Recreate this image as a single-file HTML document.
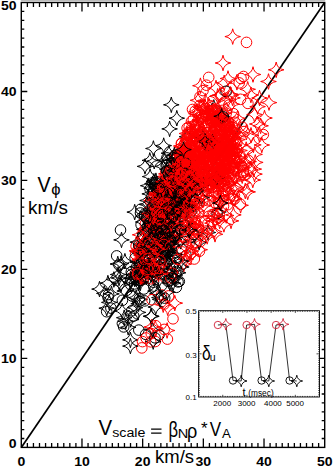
<!DOCTYPE html><html><head><meta charset="utf-8"><style>html,body{margin:0;padding:0;background:#fff;overflow:hidden}svg{display:block}</style></head><body><svg width="335" height="468" viewBox="0 0 335 468"><line x1="21.30" y1="447.40" x2="324.70" y2="2.50" stroke="#000" stroke-width="1.7"/><defs><path id="r" d="M0 -7.8Q0.94 -0.94 7.8 0Q0.94 0.94 0 7.8Q-0.94 0.94 -7.8 0Q-0.94 -0.94 0 -7.8Z" fill="none" stroke="#f00" stroke-width="1.0"/><path id="k" d="M0 -7.8Q0.94 -0.94 7.8 0Q0.94 0.94 0 7.8Q-0.94 0.94 -7.8 0Q-0.94 -0.94 0 -7.8Z" fill="none" stroke="#000" stroke-width="1.0"/><circle id="c" r="5.3" fill="none" stroke="#f00" stroke-width="1.0"/><circle id="d" r="5.3" fill="none" stroke="#000" stroke-width="1.0"/></defs><use href="#r" x="232.4" y="137.6"/><use href="#c" x="236.7" y="157.7"/><use href="#r" x="226.0" y="175.3"/><use href="#k" x="165.5" y="271.2"/><use href="#c" x="157.4" y="221.6"/><use href="#c" x="159.2" y="214.8"/><use href="#r" x="151.3" y="238.7"/><use href="#r" x="149.7" y="243.0"/><use href="#r" x="152.4" y="230.7"/><use href="#r" x="167.1" y="330.5"/><use href="#c" x="184.0" y="164.4"/><use href="#r" x="224.3" y="163.0"/><use href="#k" x="169.1" y="279.7"/><use href="#r" x="178.1" y="209.6"/><use href="#k" x="149.7" y="193.9"/><use href="#k" x="164.4" y="205.6"/><use href="#c" x="189.5" y="132.6"/><use href="#r" x="204.2" y="135.6"/><use href="#c" x="229.8" y="138.0"/><use href="#r" x="231.2" y="133.7"/><use href="#r" x="167.8" y="212.6"/><use href="#k" x="167.6" y="242.8"/><use href="#c" x="225.4" y="147.7"/><use href="#c" x="184.2" y="208.2"/><use href="#c" x="210.5" y="121.7"/><use href="#c" x="141.8" y="347.9"/><use href="#c" x="220.3" y="173.7"/><use href="#r" x="210.9" y="162.7"/><use href="#d" x="155.9" y="240.0"/><use href="#r" x="179.6" y="231.5"/><use href="#k" x="167.7" y="248.2"/><use href="#c" x="196.8" y="146.5"/><use href="#k" x="142.1" y="278.1"/><use href="#c" x="182.0" y="179.1"/><use href="#k" x="138.3" y="283.2"/><use href="#k" x="185.3" y="202.3"/><use href="#c" x="219.4" y="214.5"/><use href="#r" x="186.1" y="183.6"/><use href="#c" x="235.0" y="141.2"/><use href="#r" x="220.7" y="170.1"/><use href="#c" x="225.2" y="165.0"/><use href="#r" x="167.3" y="195.4"/><use href="#r" x="224.0" y="152.9"/><use href="#c" x="189.7" y="149.7"/><use href="#c" x="165.4" y="277.8"/><use href="#r" x="193.6" y="171.3"/><use href="#r" x="199.7" y="112.2"/><use href="#r" x="220.5" y="114.5"/><use href="#d" x="160.3" y="192.0"/><use href="#r" x="226.5" y="134.0"/><use href="#r" x="237.5" y="139.6"/><use href="#d" x="166.8" y="209.6"/><use href="#c" x="195.8" y="160.5"/><use href="#r" x="187.5" y="185.9"/><use href="#r" x="225.7" y="125.1"/><use href="#r" x="136.8" y="250.9"/><use href="#c" x="156.9" y="215.2"/><use href="#d" x="141.1" y="224.7"/><use href="#r" x="230.3" y="138.1"/><use href="#r" x="234.0" y="145.4"/><use href="#r" x="190.5" y="183.9"/><use href="#c" x="229.3" y="198.3"/><use href="#r" x="221.3" y="168.0"/><use href="#d" x="168.2" y="172.6"/><use href="#c" x="213.6" y="214.9"/><use href="#r" x="196.4" y="113.7"/><use href="#r" x="151.3" y="200.8"/><use href="#k" x="155.7" y="251.3"/><use href="#k" x="153.1" y="201.4"/><use href="#r" x="182.8" y="236.0"/><use href="#c" x="191.1" y="170.1"/><use href="#d" x="148.4" y="249.7"/><use href="#r" x="255.3" y="162.4"/><use href="#r" x="209.1" y="106.3"/><use href="#r" x="222.1" y="118.4"/><use href="#d" x="166.1" y="261.5"/><use href="#r" x="237.5" y="118.3"/><use href="#c" x="217.7" y="167.9"/><use href="#r" x="216.5" y="145.1"/><use href="#r" x="147.2" y="219.1"/><use href="#r" x="236.9" y="187.5"/><use href="#r" x="158.9" y="240.9"/><use href="#r" x="187.3" y="175.1"/><use href="#k" x="169.8" y="251.2"/><use href="#d" x="167.3" y="273.8"/><use href="#k" x="183.0" y="192.8"/><use href="#r" x="222.1" y="169.2"/><use href="#r" x="160.3" y="186.8"/><use href="#r" x="188.1" y="168.0"/><use href="#k" x="218.5" y="211.9"/><use href="#d" x="192.8" y="170.3"/><use href="#d" x="153.5" y="282.2"/><use href="#r" x="174.9" y="184.8"/><use href="#r" x="183.4" y="176.1"/><use href="#c" x="202.2" y="234.1"/><use href="#k" x="142.3" y="275.8"/><use href="#c" x="195.3" y="110.8"/><use href="#r" x="176.9" y="172.9"/><use href="#d" x="171.4" y="206.9"/><use href="#r" x="163.9" y="225.7"/><use href="#d" x="187.7" y="207.1"/><use href="#d" x="108.1" y="297.6"/><use href="#c" x="221.5" y="149.0"/><use href="#r" x="228.2" y="99.4"/><use href="#d" x="153.9" y="266.9"/><use href="#d" x="147.2" y="246.5"/><use href="#d" x="168.5" y="174.4"/><use href="#k" x="185.1" y="181.5"/><use href="#c" x="154.9" y="227.7"/><use href="#r" x="184.6" y="153.9"/><use href="#r" x="175.6" y="194.5"/><use href="#d" x="160.9" y="185.4"/><use href="#c" x="168.2" y="178.2"/><use href="#r" x="221.5" y="173.8"/><use href="#k" x="138.3" y="251.8"/><use href="#r" x="191.7" y="172.5"/><use href="#c" x="217.6" y="180.0"/><use href="#r" x="160.7" y="249.4"/><use href="#r" x="208.1" y="168.9"/><use href="#c" x="223.2" y="165.0"/><use href="#c" x="198.3" y="156.6"/><use href="#r" x="234.1" y="198.8"/><use href="#r" x="193.0" y="160.6"/><use href="#k" x="124.2" y="317.7"/><use href="#r" x="193.5" y="226.7"/><use href="#r" x="207.2" y="115.2"/><use href="#c" x="208.0" y="223.6"/><use href="#r" x="182.2" y="218.0"/><use href="#r" x="230.8" y="195.2"/><use href="#c" x="172.7" y="203.9"/><use href="#d" x="160.9" y="237.3"/><use href="#r" x="190.2" y="139.1"/><use href="#d" x="157.1" y="233.2"/><use href="#c" x="226.5" y="130.1"/><use href="#r" x="170.7" y="209.7"/><use href="#c" x="222.1" y="119.1"/><use href="#r" x="174.6" y="198.2"/><use href="#c" x="203.3" y="185.6"/><use href="#r" x="161.4" y="198.4"/><use href="#r" x="168.0" y="244.4"/><use href="#d" x="172.4" y="233.8"/><use href="#r" x="195.4" y="155.0"/><use href="#k" x="175.1" y="187.8"/><use href="#c" x="202.6" y="148.8"/><use href="#k" x="182.5" y="180.6"/><use href="#r" x="217.7" y="96.3"/><use href="#c" x="214.9" y="202.7"/><use href="#k" x="183.8" y="185.3"/><use href="#d" x="154.2" y="241.4"/><use href="#d" x="142.6" y="268.3"/><use href="#d" x="138.8" y="330.1"/><use href="#k" x="171.2" y="242.6"/><use href="#d" x="153.8" y="190.8"/><use href="#c" x="218.7" y="145.3"/><use href="#r" x="188.9" y="203.2"/><use href="#r" x="225.3" y="121.8"/><use href="#r" x="196.4" y="122.9"/><use href="#d" x="167.1" y="164.9"/><use href="#r" x="220.5" y="167.4"/><use href="#r" x="197.9" y="128.5"/><use href="#r" x="193.7" y="246.6"/><use href="#c" x="179.6" y="179.8"/><use href="#d" x="139.7" y="246.4"/><use href="#c" x="161.6" y="295.0"/><use href="#r" x="171.0" y="272.1"/><use href="#d" x="168.2" y="281.3"/><use href="#d" x="186.9" y="206.5"/><use href="#c" x="240.3" y="204.2"/><use href="#r" x="206.9" y="113.4"/><use href="#r" x="160.0" y="265.6"/><use href="#r" x="160.3" y="197.6"/><use href="#r" x="213.8" y="177.4"/><use href="#d" x="143.9" y="289.0"/><use href="#r" x="176.8" y="169.5"/><use href="#k" x="160.8" y="227.5"/><use href="#r" x="204.3" y="158.6"/><use href="#c" x="177.7" y="168.6"/><use href="#c" x="195.6" y="137.6"/><use href="#c" x="226.2" y="113.2"/><use href="#r" x="234.2" y="132.1"/><use href="#r" x="209.8" y="186.2"/><use href="#r" x="203.7" y="205.8"/><use href="#r" x="149.7" y="214.3"/><use href="#r" x="185.4" y="205.4"/><use href="#r" x="212.4" y="167.0"/><use href="#r" x="142.1" y="253.2"/><use href="#c" x="216.5" y="193.2"/><use href="#r" x="180.2" y="198.4"/><use href="#c" x="177.5" y="186.0"/><use href="#d" x="159.0" y="334.9"/><use href="#k" x="154.8" y="216.5"/><use href="#d" x="176.0" y="155.6"/><use href="#k" x="159.4" y="233.7"/><use href="#c" x="182.1" y="150.4"/><use href="#c" x="220.6" y="136.0"/><use href="#r" x="199.0" y="135.1"/><use href="#c" x="230.8" y="144.6"/><use href="#r" x="232.8" y="133.6"/><use href="#d" x="149.8" y="258.9"/><use href="#r" x="188.8" y="164.9"/><use href="#r" x="164.1" y="206.1"/><use href="#k" x="176.0" y="269.2"/><use href="#r" x="166.3" y="173.9"/><use href="#c" x="218.3" y="136.4"/><use href="#k" x="155.7" y="307.0"/><use href="#c" x="223.5" y="206.2"/><use href="#c" x="203.4" y="177.5"/><use href="#c" x="169.2" y="178.1"/><use href="#r" x="159.9" y="215.5"/><use href="#c" x="216.5" y="121.2"/><use href="#c" x="150.9" y="278.8"/><use href="#r" x="169.4" y="212.9"/><use href="#c" x="229.0" y="123.1"/><use href="#d" x="158.4" y="217.4"/><use href="#d" x="165.7" y="213.3"/><use href="#c" x="182.1" y="155.7"/><use href="#r" x="145.2" y="229.9"/><use href="#k" x="171.5" y="192.2"/><use href="#r" x="156.0" y="198.3"/><use href="#c" x="173.8" y="241.9"/><use href="#d" x="187.8" y="205.2"/><use href="#r" x="213.3" y="173.0"/><use href="#r" x="235.2" y="151.5"/><use href="#d" x="191.6" y="182.9"/><use href="#r" x="177.7" y="182.6"/><use href="#r" x="192.4" y="174.2"/><use href="#d" x="186.0" y="255.6"/><use href="#c" x="218.5" y="152.2"/><use href="#r" x="181.6" y="151.2"/><use href="#r" x="193.7" y="156.3"/><use href="#c" x="201.3" y="146.5"/><use href="#r" x="177.4" y="200.8"/><use href="#r" x="216.8" y="147.5"/><use href="#k" x="157.2" y="293.9"/><use href="#c" x="156.9" y="232.5"/><use href="#d" x="157.5" y="239.1"/><use href="#r" x="170.6" y="191.4"/><use href="#c" x="142.8" y="278.4"/><use href="#k" x="139.6" y="299.4"/><use href="#c" x="169.5" y="205.5"/><use href="#r" x="183.8" y="187.8"/><use href="#c" x="216.5" y="121.5"/><use href="#k" x="142.7" y="248.7"/><use href="#c" x="214.2" y="196.7"/><use href="#k" x="159.2" y="239.0"/><use href="#r" x="208.4" y="164.4"/><use href="#d" x="204.2" y="174.8"/><use href="#c" x="181.4" y="143.3"/><use href="#c" x="219.6" y="160.1"/><use href="#r" x="229.1" y="134.9"/><use href="#r" x="186.7" y="178.9"/><use href="#c" x="187.3" y="208.2"/><use href="#r" x="206.5" y="187.6"/><use href="#r" x="157.1" y="256.0"/><use href="#d" x="169.0" y="160.8"/><use href="#c" x="232.1" y="161.3"/><use href="#r" x="173.6" y="227.8"/><use href="#c" x="187.4" y="134.5"/><use href="#r" x="170.0" y="209.8"/><use href="#d" x="194.1" y="186.5"/><use href="#r" x="189.7" y="170.5"/><use href="#r" x="154.4" y="244.0"/><use href="#k" x="185.2" y="176.5"/><use href="#d" x="176.9" y="164.7"/><use href="#r" x="195.8" y="167.8"/><use href="#c" x="212.0" y="146.2"/><use href="#c" x="227.6" y="204.7"/><use href="#d" x="150.5" y="221.1"/><use href="#c" x="215.3" y="112.2"/><use href="#c" x="192.3" y="151.2"/><use href="#r" x="236.9" y="82.3"/><use href="#c" x="189.1" y="159.3"/><use href="#r" x="217.1" y="215.9"/><use href="#c" x="167.8" y="242.1"/><use href="#c" x="219.2" y="135.1"/><use href="#d" x="176.6" y="183.3"/><use href="#r" x="223.4" y="136.2"/><use href="#c" x="204.8" y="143.1"/><use href="#c" x="160.8" y="182.9"/><use href="#k" x="213.8" y="107.4"/><use href="#c" x="210.0" y="166.0"/><use href="#c" x="158.1" y="221.3"/><use href="#c" x="228.8" y="130.3"/><use href="#r" x="198.8" y="155.0"/><use href="#c" x="182.6" y="164.9"/><use href="#c" x="186.2" y="180.8"/><use href="#r" x="202.8" y="136.9"/><use href="#r" x="222.3" y="147.0"/><use href="#d" x="154.4" y="226.3"/><use href="#r" x="169.8" y="213.9"/><use href="#d" x="179.7" y="184.4"/><use href="#k" x="157.0" y="262.8"/><use href="#c" x="205.2" y="136.4"/><use href="#c" x="144.7" y="270.1"/><use href="#c" x="222.1" y="110.4"/><use href="#c" x="212.3" y="148.7"/><use href="#d" x="184.4" y="237.7"/><use href="#c" x="166.2" y="178.2"/><use href="#k" x="134.1" y="274.5"/><use href="#d" x="172.0" y="273.6"/><use href="#c" x="153.3" y="272.2"/><use href="#c" x="162.4" y="186.9"/><use href="#d" x="150.1" y="189.3"/><use href="#r" x="155.6" y="198.9"/><use href="#r" x="234.6" y="171.8"/><use href="#r" x="181.6" y="190.5"/><use href="#k" x="173.5" y="160.0"/><use href="#c" x="171.0" y="197.5"/><use href="#c" x="230.2" y="156.0"/><use href="#d" x="176.1" y="196.4"/><use href="#c" x="195.7" y="160.5"/><use href="#d" x="146.8" y="216.9"/><use href="#d" x="144.3" y="257.0"/><use href="#d" x="160.0" y="186.9"/><use href="#k" x="149.2" y="267.6"/><use href="#k" x="187.9" y="192.7"/><use href="#k" x="171.4" y="172.0"/><use href="#r" x="168.6" y="189.4"/><use href="#d" x="175.7" y="159.3"/><use href="#c" x="165.7" y="172.7"/><use href="#d" x="183.3" y="181.5"/><use href="#c" x="190.9" y="219.9"/><use href="#r" x="179.5" y="194.6"/><use href="#d" x="106.7" y="311.7"/><use href="#c" x="200.6" y="151.9"/><use href="#d" x="134.6" y="283.9"/><use href="#d" x="159.8" y="248.4"/><use href="#k" x="155.2" y="258.4"/><use href="#r" x="155.3" y="328.1"/><use href="#c" x="228.9" y="105.1"/><use href="#r" x="232.3" y="164.2"/><use href="#c" x="175.0" y="236.8"/><use href="#r" x="162.6" y="194.9"/><use href="#r" x="191.2" y="216.3"/><use href="#c" x="194.0" y="166.2"/><use href="#c" x="233.5" y="113.7"/><use href="#r" x="190.5" y="209.7"/><use href="#c" x="168.6" y="295.9"/><use href="#d" x="186.1" y="187.7"/><use href="#d" x="155.2" y="211.5"/><use href="#r" x="223.0" y="158.9"/><use href="#k" x="194.6" y="234.9"/><use href="#k" x="134.7" y="212.1"/><use href="#r" x="233.1" y="165.7"/><use href="#c" x="221.5" y="125.4"/><use href="#d" x="192.7" y="179.6"/><use href="#k" x="188.4" y="160.6"/><use href="#c" x="189.6" y="152.1"/><use href="#k" x="162.5" y="218.5"/><use href="#c" x="194.7" y="146.3"/><use href="#c" x="184.4" y="181.3"/><use href="#c" x="204.1" y="190.8"/><use href="#c" x="221.9" y="118.5"/><use href="#c" x="239.8" y="157.4"/><use href="#c" x="161.9" y="182.1"/><use href="#r" x="168.4" y="207.1"/><use href="#c" x="186.4" y="172.3"/><use href="#k" x="174.5" y="174.2"/><use href="#r" x="183.7" y="183.2"/><use href="#c" x="174.5" y="208.2"/><use href="#k" x="157.1" y="222.2"/><use href="#r" x="220.4" y="154.8"/><use href="#d" x="131.2" y="278.3"/><use href="#r" x="183.8" y="264.1"/><use href="#r" x="207.8" y="152.0"/><use href="#c" x="186.2" y="164.0"/><use href="#c" x="201.7" y="116.0"/><use href="#r" x="230.2" y="149.2"/><use href="#r" x="219.8" y="152.5"/><use href="#c" x="167.8" y="211.9"/><use href="#r" x="166.7" y="235.9"/><use href="#r" x="215.5" y="119.9"/><use href="#d" x="184.8" y="188.5"/><use href="#r" x="182.1" y="147.4"/><use href="#c" x="187.1" y="128.1"/><use href="#r" x="191.0" y="251.0"/><use href="#k" x="134.8" y="279.1"/><use href="#c" x="191.7" y="166.6"/><use href="#k" x="138.8" y="276.2"/><use href="#c" x="160.4" y="262.1"/><use href="#k" x="121.5" y="239.9"/><use href="#k" x="162.9" y="166.4"/><use href="#d" x="155.8" y="267.2"/><use href="#c" x="202.8" y="132.7"/><use href="#k" x="190.0" y="229.0"/><use href="#r" x="217.5" y="160.4"/><use href="#r" x="199.9" y="185.1"/><use href="#r" x="229.6" y="182.8"/><use href="#r" x="208.3" y="172.9"/><use href="#c" x="221.7" y="156.4"/><use href="#c" x="183.4" y="211.4"/><use href="#c" x="214.6" y="148.6"/><use href="#r" x="203.4" y="109.1"/><use href="#r" x="227.9" y="131.0"/><use href="#r" x="213.7" y="179.8"/><use href="#r" x="202.9" y="188.8"/><use href="#c" x="143.9" y="278.1"/><use href="#c" x="183.7" y="159.6"/><use href="#r" x="142.9" y="265.8"/><use href="#c" x="173.4" y="166.4"/><use href="#r" x="214.0" y="124.3"/><use href="#c" x="219.3" y="172.3"/><use href="#r" x="233.4" y="137.6"/><use href="#c" x="155.0" y="223.6"/><use href="#r" x="207.6" y="158.2"/><use href="#r" x="231.7" y="139.3"/><use href="#c" x="221.7" y="145.9"/><use href="#r" x="223.7" y="121.8"/><use href="#k" x="151.5" y="188.2"/><use href="#c" x="225.6" y="126.4"/><use href="#c" x="193.8" y="171.5"/><use href="#r" x="175.5" y="233.2"/><use href="#r" x="233.5" y="187.6"/><use href="#r" x="207.0" y="172.6"/><use href="#c" x="159.4" y="211.1"/><use href="#d" x="188.9" y="189.6"/><use href="#k" x="167.9" y="263.3"/><use href="#r" x="187.7" y="203.2"/><use href="#c" x="195.4" y="184.1"/><use href="#c" x="210.3" y="154.9"/><use href="#r" x="222.7" y="172.2"/><use href="#r" x="196.3" y="175.3"/><use href="#r" x="186.5" y="175.8"/><use href="#r" x="188.5" y="162.0"/><use href="#c" x="180.1" y="178.2"/><use href="#r" x="241.6" y="167.1"/><use href="#r" x="191.6" y="175.6"/><use href="#r" x="200.5" y="196.0"/><use href="#k" x="151.4" y="316.4"/><use href="#k" x="153.8" y="278.3"/><use href="#d" x="166.3" y="187.8"/><use href="#d" x="185.6" y="225.5"/><use href="#c" x="222.5" y="186.4"/><use href="#r" x="164.6" y="190.4"/><use href="#r" x="220.4" y="127.5"/><use href="#c" x="243.4" y="170.7"/><use href="#k" x="151.8" y="270.9"/><use href="#c" x="225.1" y="178.6"/><use href="#r" x="233.3" y="145.2"/><use href="#c" x="225.3" y="122.7"/><use href="#d" x="193.9" y="170.7"/><use href="#d" x="163.0" y="191.2"/><use href="#d" x="173.2" y="191.2"/><use href="#k" x="150.1" y="176.6"/><use href="#c" x="232.6" y="153.1"/><use href="#c" x="163.1" y="240.3"/><use href="#k" x="143.7" y="216.4"/><use href="#c" x="164.1" y="255.4"/><use href="#c" x="223.6" y="172.9"/><use href="#c" x="138.4" y="271.4"/><use href="#r" x="216.3" y="120.0"/><use href="#c" x="210.0" y="110.9"/><use href="#r" x="199.7" y="169.0"/><use href="#r" x="185.9" y="259.1"/><use href="#d" x="176.9" y="156.7"/><use href="#d" x="176.7" y="213.2"/><use href="#r" x="211.2" y="157.8"/><use href="#d" x="140.8" y="209.2"/><use href="#c" x="195.9" y="196.6"/><use href="#c" x="175.6" y="183.2"/><use href="#k" x="183.0" y="187.9"/><use href="#d" x="180.8" y="170.2"/><use href="#d" x="210.3" y="136.2"/><use href="#r" x="145.4" y="232.1"/><use href="#c" x="205.5" y="156.2"/><use href="#k" x="174.5" y="216.1"/><use href="#r" x="174.6" y="166.5"/><use href="#c" x="164.9" y="210.4"/><use href="#r" x="227.2" y="146.5"/><use href="#c" x="178.0" y="215.1"/><use href="#r" x="181.0" y="202.3"/><use href="#r" x="209.0" y="153.7"/><use href="#r" x="189.2" y="205.8"/><use href="#k" x="183.9" y="161.9"/><use href="#r" x="157.5" y="247.4"/><use href="#c" x="216.1" y="203.7"/><use href="#c" x="225.9" y="151.9"/><use href="#c" x="176.4" y="208.6"/><use href="#d" x="163.7" y="210.2"/><use href="#k" x="163.1" y="228.5"/><use href="#r" x="150.3" y="226.6"/><use href="#d" x="181.3" y="178.0"/><use href="#r" x="257.2" y="124.0"/><use href="#d" x="176.0" y="235.4"/><use href="#k" x="147.4" y="269.1"/><use href="#d" x="142.4" y="245.7"/><use href="#r" x="228.5" y="143.7"/><use href="#c" x="181.6" y="172.7"/><use href="#k" x="141.5" y="255.1"/><use href="#c" x="212.5" y="110.9"/><use href="#k" x="165.9" y="242.8"/><use href="#c" x="153.2" y="214.5"/><use href="#k" x="118.1" y="274.5"/><use href="#k" x="152.5" y="330.0"/><use href="#r" x="257.6" y="106.6"/><use href="#r" x="156.3" y="194.5"/><use href="#c" x="185.8" y="239.5"/><use href="#r" x="216.4" y="120.9"/><use href="#c" x="215.0" y="135.2"/><use href="#c" x="150.7" y="341.8"/><use href="#d" x="181.7" y="249.4"/><use href="#c" x="196.2" y="242.4"/><use href="#c" x="202.9" y="200.9"/><use href="#r" x="220.7" y="203.2"/><use href="#c" x="186.0" y="147.9"/><use href="#d" x="154.1" y="271.7"/><use href="#c" x="202.3" y="172.3"/><use href="#c" x="218.5" y="124.1"/><use href="#c" x="160.0" y="201.5"/><use href="#r" x="156.9" y="192.5"/><use href="#k" x="109.3" y="302.4"/><use href="#c" x="202.0" y="161.2"/><use href="#r" x="197.4" y="174.7"/><use href="#k" x="187.0" y="136.7"/><use href="#k" x="104.3" y="293.4"/><use href="#r" x="227.5" y="144.2"/><use href="#k" x="176.2" y="183.2"/><use href="#c" x="193.4" y="161.9"/><use href="#k" x="178.1" y="272.8"/><use href="#k" x="155.4" y="291.1"/><use href="#r" x="223.2" y="176.8"/><use href="#r" x="230.0" y="129.1"/><use href="#r" x="142.6" y="277.5"/><use href="#d" x="139.3" y="298.9"/><use href="#c" x="218.8" y="204.3"/><use href="#d" x="153.9" y="286.1"/><use href="#c" x="199.2" y="151.0"/><use href="#r" x="192.4" y="157.3"/><use href="#c" x="145.3" y="224.1"/><use href="#k" x="172.3" y="256.8"/><use href="#r" x="183.8" y="153.2"/><use href="#c" x="198.1" y="225.9"/><use href="#c" x="185.7" y="171.9"/><use href="#r" x="183.0" y="177.0"/><use href="#r" x="229.2" y="175.5"/><use href="#c" x="175.5" y="155.1"/><use href="#k" x="174.1" y="239.5"/><use href="#d" x="180.8" y="229.3"/><use href="#r" x="221.1" y="203.3"/><use href="#k" x="174.6" y="278.4"/><use href="#r" x="254.5" y="174.1"/><use href="#c" x="153.5" y="270.0"/><use href="#c" x="215.8" y="182.1"/><use href="#r" x="215.8" y="123.1"/><use href="#k" x="167.9" y="231.0"/><use href="#r" x="219.4" y="121.2"/><use href="#k" x="138.0" y="273.0"/><use href="#d" x="157.3" y="190.0"/><use href="#c" x="209.7" y="130.9"/><use href="#r" x="151.7" y="327.0"/><use href="#k" x="187.5" y="211.1"/><use href="#r" x="190.8" y="130.8"/><use href="#k" x="185.1" y="173.1"/><use href="#d" x="174.5" y="155.5"/><use href="#c" x="208.6" y="114.4"/><use href="#k" x="140.9" y="251.2"/><use href="#c" x="193.5" y="174.5"/><use href="#d" x="193.3" y="178.5"/><use href="#c" x="196.7" y="167.7"/><use href="#r" x="224.2" y="170.0"/><use href="#c" x="163.8" y="189.2"/><use href="#r" x="170.5" y="219.3"/><use href="#c" x="186.2" y="171.0"/><use href="#c" x="244.4" y="175.1"/><use href="#c" x="163.4" y="204.3"/><use href="#r" x="219.5" y="113.5"/><use href="#k" x="180.9" y="188.9"/><use href="#r" x="191.3" y="254.8"/><use href="#r" x="174.8" y="303.1"/><use href="#c" x="220.4" y="129.4"/><use href="#d" x="149.2" y="222.8"/><use href="#r" x="163.0" y="213.5"/><use href="#c" x="187.3" y="179.6"/><use href="#c" x="190.8" y="167.1"/><use href="#c" x="139.5" y="246.6"/><use href="#r" x="150.7" y="237.5"/><use href="#d" x="110.9" y="308.1"/><use href="#r" x="231.4" y="152.4"/><use href="#r" x="246.4" y="132.1"/><use href="#r" x="179.0" y="158.5"/><use href="#c" x="136.1" y="246.1"/><use href="#k" x="135.1" y="307.7"/><use href="#d" x="136.1" y="280.0"/><use href="#r" x="200.8" y="143.0"/><use href="#r" x="239.8" y="145.4"/><use href="#d" x="131.6" y="274.6"/><use href="#c" x="213.1" y="163.7"/><use href="#c" x="172.4" y="199.5"/><use href="#r" x="174.9" y="177.5"/><use href="#r" x="192.1" y="227.4"/><use href="#d" x="179.3" y="281.4"/><use href="#r" x="181.3" y="163.3"/><use href="#c" x="190.6" y="226.8"/><use href="#r" x="173.0" y="229.4"/><use href="#r" x="208.9" y="161.0"/><use href="#c" x="171.3" y="174.8"/><use href="#c" x="205.3" y="150.1"/><use href="#k" x="163.0" y="230.7"/><use href="#r" x="200.7" y="149.5"/><use href="#r" x="217.3" y="185.0"/><use href="#d" x="118.9" y="264.9"/><use href="#r" x="222.7" y="146.0"/><use href="#c" x="209.5" y="143.8"/><use href="#r" x="198.4" y="128.4"/><use href="#c" x="187.1" y="157.1"/><use href="#r" x="210.9" y="138.7"/><use href="#d" x="144.6" y="300.9"/><use href="#r" x="153.4" y="254.4"/><use href="#c" x="189.2" y="126.7"/><use href="#c" x="216.5" y="171.3"/><use href="#c" x="179.2" y="174.0"/><use href="#k" x="167.7" y="253.7"/><use href="#r" x="197.3" y="167.1"/><use href="#r" x="228.9" y="153.9"/><use href="#c" x="183.1" y="188.0"/><use href="#k" x="144.0" y="270.1"/><use href="#c" x="207.0" y="132.7"/><use href="#r" x="252.8" y="180.0"/><use href="#r" x="253.8" y="169.1"/><use href="#r" x="180.4" y="164.3"/><use href="#c" x="156.0" y="212.5"/><use href="#r" x="169.1" y="203.3"/><use href="#c" x="240.8" y="175.8"/><use href="#c" x="188.8" y="166.4"/><use href="#r" x="189.2" y="153.0"/><use href="#c" x="218.1" y="115.3"/><use href="#r" x="165.3" y="234.2"/><use href="#r" x="203.0" y="150.4"/><use href="#r" x="225.0" y="165.2"/><use href="#r" x="189.5" y="163.0"/><use href="#c" x="194.3" y="204.6"/><use href="#r" x="150.9" y="267.5"/><use href="#d" x="194.0" y="181.8"/><use href="#d" x="170.1" y="240.3"/><use href="#r" x="190.6" y="139.8"/><use href="#c" x="218.3" y="153.4"/><use href="#c" x="219.9" y="139.9"/><use href="#c" x="208.8" y="162.0"/><use href="#r" x="184.7" y="160.7"/><use href="#c" x="247.9" y="103.4"/><use href="#c" x="195.0" y="200.0"/><use href="#c" x="177.4" y="176.9"/><use href="#r" x="172.1" y="166.7"/><use href="#r" x="207.4" y="180.4"/><use href="#r" x="186.3" y="182.2"/><use href="#r" x="175.4" y="180.7"/><use href="#r" x="223.6" y="164.2"/><use href="#k" x="121.1" y="263.5"/><use href="#d" x="123.7" y="326.9"/><use href="#r" x="193.1" y="240.2"/><use href="#k" x="178.7" y="158.2"/><use href="#c" x="198.8" y="230.0"/><use href="#r" x="240.1" y="132.4"/><use href="#d" x="191.3" y="174.3"/><use href="#c" x="209.3" y="137.2"/><use href="#c" x="217.6" y="152.9"/><use href="#d" x="184.6" y="188.5"/><use href="#c" x="197.6" y="130.4"/><use href="#r" x="219.1" y="181.0"/><use href="#k" x="167.4" y="292.1"/><use href="#c" x="202.0" y="134.8"/><use href="#c" x="196.8" y="178.5"/><use href="#r" x="186.9" y="150.6"/><use href="#r" x="185.2" y="183.0"/><use href="#c" x="189.0" y="176.3"/><use href="#c" x="162.7" y="230.9"/><use href="#r" x="177.1" y="156.9"/><use href="#c" x="184.7" y="164.8"/><use href="#k" x="187.9" y="206.2"/><use href="#d" x="155.9" y="187.5"/><use href="#r" x="185.1" y="204.9"/><use href="#r" x="175.9" y="172.9"/><use href="#c" x="223.0" y="181.6"/><use href="#k" x="119.0" y="278.0"/><use href="#k" x="179.0" y="205.1"/><use href="#k" x="152.8" y="269.4"/><use href="#d" x="176.2" y="170.1"/><use href="#d" x="162.3" y="269.2"/><use href="#c" x="206.7" y="186.2"/><use href="#k" x="136.2" y="297.7"/><use href="#c" x="137.5" y="250.7"/><use href="#c" x="196.0" y="140.2"/><use href="#c" x="216.2" y="153.4"/><use href="#r" x="224.0" y="163.0"/><use href="#r" x="226.2" y="140.9"/><use href="#r" x="215.9" y="174.3"/><use href="#r" x="215.6" y="110.5"/><use href="#c" x="175.3" y="173.0"/><use href="#k" x="166.0" y="255.7"/><use href="#c" x="166.9" y="197.7"/><use href="#c" x="182.9" y="237.0"/><use href="#d" x="176.9" y="157.8"/><use href="#r" x="156.2" y="193.6"/><use href="#d" x="182.7" y="201.9"/><use href="#r" x="189.6" y="182.4"/><use href="#k" x="158.7" y="271.8"/><use href="#r" x="231.5" y="124.6"/><use href="#c" x="212.1" y="181.4"/><use href="#r" x="179.3" y="197.1"/><use href="#k" x="140.4" y="262.0"/><use href="#k" x="159.2" y="280.2"/><use href="#r" x="239.6" y="163.7"/><use href="#c" x="203.0" y="151.9"/><use href="#d" x="192.4" y="197.3"/><use href="#c" x="203.7" y="181.9"/><use href="#c" x="188.4" y="231.6"/><use href="#r" x="174.1" y="240.6"/><use href="#r" x="198.6" y="181.0"/><use href="#r" x="143.3" y="237.4"/><use href="#c" x="230.3" y="144.3"/><use href="#d" x="207.5" y="145.8"/><use href="#r" x="167.7" y="307.8"/><use href="#k" x="167.8" y="204.2"/><use href="#r" x="201.4" y="114.7"/><use href="#r" x="217.4" y="139.1"/><use href="#c" x="151.6" y="238.9"/><use href="#c" x="137.8" y="272.1"/><use href="#r" x="159.6" y="209.6"/><use href="#k" x="151.5" y="238.9"/><use href="#c" x="200.4" y="241.5"/><use href="#c" x="191.1" y="228.0"/><use href="#r" x="221.3" y="149.0"/><use href="#k" x="156.8" y="184.0"/><use href="#r" x="200.7" y="107.2"/><use href="#r" x="181.9" y="221.0"/><use href="#k" x="164.7" y="183.5"/><use href="#d" x="155.2" y="289.5"/><use href="#k" x="138.6" y="303.8"/><use href="#r" x="220.8" y="200.2"/><use href="#d" x="159.2" y="235.1"/><use href="#k" x="154.7" y="247.0"/><use href="#r" x="223.5" y="113.3"/><use href="#c" x="138.3" y="261.5"/><use href="#c" x="181.0" y="155.6"/><use href="#k" x="166.0" y="219.1"/><use href="#d" x="174.4" y="214.6"/><use href="#k" x="183.8" y="176.1"/><use href="#r" x="193.2" y="159.4"/><use href="#r" x="216.5" y="135.3"/><use href="#r" x="172.8" y="184.8"/><use href="#c" x="195.7" y="168.5"/><use href="#c" x="166.3" y="211.1"/><use href="#d" x="175.1" y="207.8"/><use href="#k" x="207.9" y="232.5"/><use href="#c" x="218.4" y="186.5"/><use href="#c" x="233.1" y="117.3"/><use href="#c" x="161.3" y="210.4"/><use href="#c" x="220.0" y="173.7"/><use href="#r" x="173.4" y="180.7"/><use href="#c" x="189.6" y="147.4"/><use href="#r" x="191.4" y="131.6"/><use href="#r" x="152.0" y="207.8"/><use href="#r" x="237.6" y="157.5"/><use href="#r" x="223.7" y="168.6"/><use href="#r" x="187.3" y="253.3"/><use href="#c" x="211.4" y="145.7"/><use href="#c" x="200.0" y="96.8"/><use href="#r" x="216.7" y="196.0"/><use href="#r" x="153.0" y="275.7"/><use href="#c" x="188.3" y="132.5"/><use href="#c" x="224.0" y="146.6"/><use href="#r" x="195.3" y="159.5"/><use href="#r" x="212.0" y="147.7"/><use href="#k" x="149.9" y="224.3"/><use href="#d" x="166.2" y="165.6"/><use href="#c" x="189.6" y="199.8"/><use href="#r" x="193.2" y="171.8"/><use href="#r" x="195.1" y="216.7"/><use href="#r" x="246.2" y="149.6"/><use href="#c" x="167.7" y="223.3"/><use href="#c" x="214.5" y="128.4"/><use href="#r" x="207.3" y="125.4"/><use href="#r" x="189.2" y="168.1"/><use href="#k" x="173.0" y="159.4"/><use href="#k" x="159.0" y="257.2"/><use href="#r" x="174.4" y="208.8"/><use href="#r" x="231.1" y="163.0"/><use href="#r" x="189.4" y="185.5"/><use href="#k" x="175.5" y="208.9"/><use href="#k" x="177.2" y="219.5"/><use href="#c" x="233.3" y="168.9"/><use href="#r" x="175.0" y="198.4"/><use href="#r" x="194.5" y="198.8"/><use href="#c" x="224.2" y="183.8"/><use href="#r" x="232.5" y="97.9"/><use href="#r" x="162.5" y="222.5"/><use href="#c" x="218.6" y="148.4"/><use href="#r" x="187.7" y="141.0"/><use href="#r" x="215.1" y="220.8"/><use href="#r" x="165.0" y="251.6"/><use href="#r" x="221.8" y="175.2"/><use href="#k" x="184.7" y="201.6"/><use href="#r" x="239.5" y="150.5"/><use href="#c" x="152.2" y="226.1"/><use href="#r" x="218.6" y="110.4"/><use href="#c" x="175.6" y="229.5"/><use href="#c" x="225.3" y="154.5"/><use href="#r" x="149.0" y="239.3"/><use href="#r" x="189.2" y="222.9"/><use href="#d" x="152.4" y="247.5"/><use href="#k" x="137.8" y="262.2"/><use href="#r" x="162.7" y="197.9"/><use href="#r" x="184.7" y="144.6"/><use href="#c" x="140.6" y="253.1"/><use href="#d" x="167.1" y="272.9"/><use href="#c" x="180.7" y="202.7"/><use href="#d" x="169.9" y="191.3"/><use href="#c" x="222.7" y="193.6"/><use href="#k" x="168.5" y="190.0"/><use href="#c" x="212.6" y="173.3"/><use href="#c" x="159.9" y="212.9"/><use href="#d" x="150.7" y="218.7"/><use href="#c" x="161.8" y="224.9"/><use href="#k" x="182.7" y="204.6"/><use href="#c" x="215.0" y="159.1"/><use href="#k" x="161.0" y="184.1"/><use href="#c" x="135.1" y="274.4"/><use href="#k" x="171.2" y="254.0"/><use href="#c" x="187.2" y="151.3"/><use href="#c" x="182.2" y="187.4"/><use href="#d" x="217.1" y="213.4"/><use href="#c" x="202.6" y="106.0"/><use href="#c" x="196.6" y="159.0"/><use href="#k" x="145.9" y="255.3"/><use href="#c" x="226.7" y="179.7"/><use href="#d" x="164.4" y="196.0"/><use href="#d" x="122.4" y="323.5"/><use href="#r" x="159.2" y="214.6"/><use href="#c" x="215.9" y="116.7"/><use href="#r" x="187.9" y="160.0"/><use href="#k" x="156.4" y="187.4"/><use href="#r" x="222.5" y="141.0"/><use href="#r" x="187.1" y="149.8"/><use href="#k" x="153.7" y="274.7"/><use href="#d" x="153.5" y="230.7"/><use href="#d" x="181.6" y="177.5"/><use href="#r" x="209.2" y="134.8"/><use href="#d" x="165.8" y="218.7"/><use href="#d" x="170.9" y="186.2"/><use href="#c" x="201.4" y="163.6"/><use href="#k" x="144.2" y="229.3"/><use href="#r" x="238.2" y="162.1"/><use href="#r" x="213.4" y="148.2"/><use href="#r" x="221.5" y="146.1"/><use href="#r" x="174.2" y="190.9"/><use href="#r" x="211.2" y="157.4"/><use href="#k" x="181.0" y="206.6"/><use href="#r" x="199.9" y="121.0"/><use href="#k" x="166.3" y="252.3"/><use href="#k" x="166.0" y="198.9"/><use href="#r" x="184.6" y="184.7"/><use href="#c" x="233.1" y="199.2"/><use href="#k" x="174.6" y="208.4"/><use href="#k" x="202.9" y="184.7"/><use href="#c" x="187.8" y="188.9"/><use href="#c" x="190.2" y="157.2"/><use href="#c" x="228.9" y="177.2"/><use href="#c" x="163.8" y="218.4"/><use href="#c" x="224.4" y="156.2"/><use href="#k" x="175.0" y="275.0"/><use href="#d" x="170.1" y="200.3"/><use href="#c" x="182.9" y="189.5"/><use href="#d" x="142.0" y="271.9"/><use href="#c" x="230.8" y="150.2"/><use href="#k" x="188.6" y="207.2"/><use href="#d" x="141.6" y="267.0"/><use href="#k" x="167.4" y="169.3"/><use href="#r" x="201.5" y="177.9"/><use href="#r" x="184.2" y="178.7"/><use href="#r" x="223.1" y="176.0"/><use href="#c" x="181.6" y="143.7"/><use href="#r" x="219.7" y="221.0"/><use href="#r" x="164.5" y="229.3"/><use href="#r" x="222.0" y="181.7"/><use href="#r" x="186.4" y="165.6"/><use href="#r" x="205.0" y="106.6"/><use href="#d" x="155.2" y="184.9"/><use href="#k" x="139.8" y="281.7"/><use href="#c" x="198.3" y="229.1"/><use href="#c" x="225.0" y="165.4"/><use href="#r" x="224.9" y="172.4"/><use href="#r" x="206.3" y="118.1"/><use href="#k" x="149.5" y="264.0"/><use href="#r" x="162.4" y="264.0"/><use href="#d" x="160.9" y="201.6"/><use href="#r" x="181.8" y="201.8"/><use href="#k" x="138.0" y="312.4"/><use href="#c" x="198.8" y="151.9"/><use href="#c" x="207.8" y="163.3"/><use href="#c" x="199.4" y="251.2"/><use href="#r" x="209.1" y="153.8"/><use href="#c" x="176.8" y="173.6"/><use href="#r" x="157.8" y="224.3"/><use href="#d" x="144.7" y="214.0"/><use href="#c" x="167.4" y="339.1"/><use href="#c" x="232.8" y="141.5"/><use href="#k" x="185.0" y="223.7"/><use href="#c" x="208.0" y="122.7"/><use href="#k" x="167.3" y="197.7"/><use href="#c" x="221.7" y="140.0"/><use href="#c" x="204.1" y="178.1"/><use href="#c" x="197.9" y="189.4"/><use href="#c" x="234.4" y="195.7"/><use href="#d" x="149.2" y="256.2"/><use href="#c" x="199.2" y="170.9"/><use href="#k" x="171.0" y="215.8"/><use href="#k" x="117.8" y="264.0"/><use href="#c" x="196.0" y="156.8"/><use href="#r" x="242.2" y="175.7"/><use href="#k" x="145.5" y="243.3"/><use href="#c" x="140.5" y="277.6"/><use href="#d" x="163.5" y="199.7"/><use href="#d" x="190.9" y="212.0"/><use href="#k" x="199.1" y="242.3"/><use href="#d" x="136.4" y="267.3"/><use href="#r" x="178.3" y="159.5"/><use href="#r" x="190.2" y="136.8"/><use href="#d" x="173.1" y="202.3"/><use href="#r" x="245.0" y="164.1"/><use href="#c" x="218.3" y="192.8"/><use href="#k" x="173.5" y="203.1"/><use href="#r" x="220.5" y="120.3"/><use href="#c" x="192.3" y="142.2"/><use href="#d" x="151.1" y="221.0"/><use href="#c" x="187.1" y="179.5"/><use href="#c" x="181.6" y="180.7"/><use href="#k" x="164.8" y="256.0"/><use href="#d" x="184.6" y="204.4"/><use href="#d" x="122.4" y="300.3"/><use href="#k" x="143.0" y="259.8"/><use href="#k" x="182.1" y="196.3"/><use href="#k" x="177.8" y="173.1"/><use href="#d" x="198.7" y="184.8"/><use href="#r" x="186.9" y="133.5"/><use href="#c" x="201.2" y="144.7"/><use href="#d" x="185.2" y="225.2"/><use href="#d" x="133.7" y="316.0"/><use href="#k" x="161.1" y="204.9"/><use href="#r" x="161.6" y="194.8"/><use href="#r" x="231.7" y="104.2"/><use href="#r" x="208.5" y="112.5"/><use href="#c" x="152.0" y="299.7"/><use href="#c" x="183.1" y="153.3"/><use href="#c" x="215.2" y="131.1"/><use href="#c" x="196.6" y="202.3"/><use href="#c" x="225.8" y="168.5"/><use href="#c" x="155.3" y="341.5"/><use href="#c" x="204.5" y="220.7"/><use href="#r" x="224.5" y="140.6"/><use href="#c" x="227.1" y="153.1"/><use href="#c" x="199.3" y="203.1"/><use href="#r" x="217.4" y="162.8"/><use href="#c" x="172.1" y="196.7"/><use href="#c" x="149.5" y="265.0"/><use href="#c" x="201.0" y="133.4"/><use href="#c" x="147.8" y="267.0"/><use href="#k" x="181.1" y="261.1"/><use href="#d" x="164.7" y="298.1"/><use href="#d" x="152.9" y="182.8"/><use href="#d" x="131.6" y="310.8"/><use href="#c" x="215.5" y="128.3"/><use href="#c" x="217.8" y="140.3"/><use href="#r" x="224.3" y="152.3"/><use href="#c" x="198.5" y="174.6"/><use href="#c" x="211.9" y="148.7"/><use href="#c" x="149.4" y="231.4"/><use href="#c" x="205.9" y="115.8"/><use href="#c" x="159.0" y="268.5"/><use href="#k" x="169.8" y="282.9"/><use href="#r" x="180.9" y="154.1"/><use href="#k" x="144.5" y="233.2"/><use href="#k" x="170.7" y="270.7"/><use href="#r" x="213.3" y="117.1"/><use href="#c" x="218.6" y="155.1"/><use href="#c" x="209.0" y="110.9"/><use href="#k" x="193.8" y="182.0"/><use href="#d" x="145.7" y="334.3"/><use href="#k" x="152.5" y="183.9"/><use href="#c" x="217.5" y="110.5"/><use href="#d" x="170.6" y="213.6"/><use href="#c" x="201.4" y="146.7"/><use href="#c" x="210.0" y="161.1"/><use href="#r" x="182.2" y="163.6"/><use href="#c" x="163.0" y="220.9"/><use href="#r" x="181.2" y="146.0"/><use href="#r" x="185.3" y="247.2"/><use href="#k" x="181.6" y="197.0"/><use href="#c" x="190.6" y="253.8"/><use href="#d" x="164.1" y="263.9"/><use href="#c" x="182.8" y="215.3"/><use href="#r" x="179.4" y="177.7"/><use href="#r" x="225.2" y="125.4"/><use href="#d" x="176.0" y="177.0"/><use href="#k" x="188.7" y="188.2"/><use href="#k" x="158.4" y="191.3"/><use href="#k" x="130.4" y="346.1"/><use href="#k" x="153.9" y="181.3"/><use href="#c" x="197.8" y="125.6"/><use href="#r" x="201.2" y="234.5"/><use href="#r" x="223.5" y="183.6"/><use href="#c" x="178.3" y="171.7"/><use href="#r" x="140.5" y="268.4"/><use href="#d" x="162.6" y="237.6"/><use href="#k" x="163.3" y="194.2"/><use href="#r" x="168.1" y="201.0"/><use href="#r" x="223.1" y="153.7"/><use href="#k" x="203.2" y="137.5"/><use href="#r" x="170.3" y="203.2"/><use href="#c" x="208.2" y="200.7"/><use href="#c" x="189.7" y="153.8"/><use href="#c" x="148.2" y="252.3"/><use href="#c" x="189.1" y="134.4"/><use href="#r" x="200.0" y="165.2"/><use href="#c" x="146.6" y="245.9"/><use href="#c" x="216.0" y="125.7"/><use href="#k" x="169.6" y="244.2"/><use href="#r" x="156.9" y="209.5"/><use href="#r" x="184.3" y="173.6"/><use href="#d" x="154.4" y="209.3"/><use href="#r" x="219.6" y="121.1"/><use href="#r" x="222.6" y="172.9"/><use href="#k" x="168.6" y="238.6"/><use href="#c" x="181.5" y="192.5"/><use href="#c" x="202.3" y="158.3"/><use href="#d" x="140.5" y="213.0"/><use href="#c" x="174.2" y="195.2"/><use href="#d" x="139.5" y="264.6"/><use href="#r" x="213.7" y="110.8"/><use href="#c" x="233.5" y="177.1"/><use href="#r" x="160.9" y="186.8"/><use href="#c" x="216.7" y="127.4"/><use href="#c" x="158.6" y="198.4"/><use href="#d" x="187.6" y="174.0"/><use href="#d" x="163.4" y="251.8"/><use href="#k" x="212.7" y="142.0"/><use href="#c" x="196.7" y="125.3"/><use href="#k" x="173.1" y="283.1"/><use href="#r" x="202.6" y="164.7"/><use href="#c" x="194.3" y="150.2"/><use href="#c" x="189.5" y="177.2"/><use href="#c" x="211.4" y="185.1"/><use href="#k" x="155.2" y="184.6"/><use href="#k" x="137.7" y="242.1"/><use href="#r" x="191.2" y="147.3"/><use href="#c" x="195.8" y="223.0"/><use href="#c" x="177.3" y="183.4"/><use href="#r" x="193.1" y="183.9"/><use href="#r" x="189.4" y="160.6"/><use href="#k" x="201.6" y="197.6"/><use href="#r" x="202.2" y="157.5"/><use href="#r" x="214.3" y="146.5"/><use href="#r" x="225.8" y="138.6"/><use href="#c" x="190.6" y="167.3"/><use href="#r" x="207.0" y="182.8"/><use href="#k" x="122.2" y="311.0"/><use href="#d" x="176.0" y="257.6"/><use href="#d" x="157.9" y="238.0"/><use href="#c" x="211.0" y="180.0"/><use href="#k" x="178.5" y="207.2"/><use href="#c" x="243.4" y="172.3"/><use href="#k" x="140.3" y="283.0"/><use href="#c" x="204.9" y="140.5"/><use href="#r" x="178.7" y="167.2"/><use href="#c" x="211.8" y="221.3"/><use href="#c" x="212.0" y="187.5"/><use href="#d" x="174.8" y="232.3"/><use href="#c" x="193.4" y="226.6"/><use href="#k" x="160.1" y="232.5"/><use href="#r" x="210.1" y="119.9"/><use href="#c" x="182.6" y="159.6"/><use href="#c" x="172.4" y="273.4"/><use href="#c" x="235.0" y="122.3"/><use href="#r" x="209.1" y="159.0"/><use href="#r" x="205.2" y="175.5"/><use href="#c" x="234.5" y="168.3"/><use href="#c" x="206.8" y="232.2"/><use href="#c" x="194.2" y="162.4"/><use href="#c" x="240.9" y="174.4"/><use href="#c" x="173.6" y="181.5"/><use href="#k" x="143.2" y="222.0"/><use href="#r" x="139.6" y="259.9"/><use href="#r" x="237.5" y="162.2"/><use href="#c" x="212.4" y="116.6"/><use href="#r" x="163.2" y="304.7"/><use href="#r" x="170.0" y="200.6"/><use href="#k" x="150.0" y="268.7"/><use href="#c" x="221.1" y="171.6"/><use href="#c" x="220.6" y="147.2"/><use href="#k" x="168.0" y="257.7"/><use href="#c" x="218.3" y="188.8"/><use href="#k" x="216.6" y="177.8"/><use href="#r" x="215.4" y="118.4"/><use href="#r" x="155.1" y="204.4"/><use href="#r" x="196.2" y="138.7"/><use href="#c" x="172.8" y="178.6"/><use href="#d" x="140.9" y="264.3"/><use href="#k" x="147.5" y="200.5"/><use href="#r" x="140.1" y="250.0"/><use href="#d" x="169.5" y="170.5"/><use href="#k" x="193.6" y="178.9"/><use href="#r" x="199.9" y="119.9"/><use href="#r" x="230.3" y="133.2"/><use href="#d" x="184.7" y="231.3"/><use href="#c" x="179.7" y="155.8"/><use href="#c" x="164.1" y="304.1"/><use href="#d" x="156.8" y="223.9"/><use href="#k" x="160.2" y="299.5"/><use href="#r" x="169.3" y="192.1"/><use href="#k" x="154.5" y="220.9"/><use href="#r" x="222.4" y="161.7"/><use href="#k" x="133.1" y="296.2"/><use href="#c" x="203.6" y="158.1"/><use href="#r" x="215.8" y="177.5"/><use href="#c" x="226.5" y="155.5"/><use href="#c" x="147.7" y="240.5"/><use href="#c" x="210.8" y="120.3"/><use href="#d" x="186.0" y="184.0"/><use href="#r" x="179.7" y="164.5"/><use href="#r" x="211.8" y="138.5"/><use href="#d" x="193.7" y="234.4"/><use href="#c" x="198.7" y="144.8"/><use href="#d" x="176.4" y="163.0"/><use href="#d" x="173.9" y="223.3"/><use href="#c" x="194.8" y="214.0"/><use href="#c" x="154.8" y="205.6"/><use href="#c" x="183.1" y="222.9"/><use href="#r" x="226.7" y="125.3"/><use href="#d" x="163.3" y="243.9"/><use href="#d" x="159.6" y="199.9"/><use href="#c" x="242.5" y="127.3"/><use href="#c" x="198.7" y="182.7"/><use href="#c" x="193.0" y="140.4"/><use href="#k" x="159.8" y="244.8"/><use href="#r" x="203.9" y="136.9"/><use href="#c" x="173.0" y="318.8"/><use href="#c" x="232.1" y="135.2"/><use href="#c" x="226.6" y="126.6"/><use href="#k" x="161.4" y="185.7"/><use href="#d" x="194.1" y="200.0"/><use href="#k" x="172.7" y="245.8"/><use href="#c" x="212.0" y="121.1"/><use href="#c" x="263.3" y="134.6"/><use href="#k" x="121.0" y="284.6"/><use href="#k" x="158.0" y="229.7"/><use href="#c" x="229.8" y="128.9"/><use href="#r" x="201.9" y="172.5"/><use href="#r" x="153.9" y="224.7"/><use href="#c" x="230.3" y="155.0"/><use href="#c" x="196.9" y="161.2"/><use href="#r" x="183.1" y="173.4"/><use href="#r" x="163.6" y="181.7"/><use href="#d" x="190.7" y="191.5"/><use href="#c" x="176.2" y="188.1"/><use href="#k" x="148.7" y="229.7"/><use href="#c" x="135.6" y="254.3"/><use href="#r" x="215.0" y="141.5"/><use href="#r" x="221.0" y="173.7"/><use href="#d" x="135.1" y="258.2"/><use href="#c" x="213.4" y="191.7"/><use href="#r" x="140.5" y="275.5"/><use href="#r" x="212.8" y="216.6"/><use href="#c" x="184.8" y="191.2"/><use href="#r" x="191.1" y="197.0"/><use href="#r" x="244.8" y="162.1"/><use href="#c" x="155.7" y="249.1"/><use href="#r" x="149.7" y="213.6"/><use href="#c" x="198.8" y="127.1"/><use href="#c" x="183.8" y="160.3"/><use href="#r" x="212.5" y="178.1"/><use href="#d" x="189.3" y="174.6"/><use href="#c" x="189.1" y="146.5"/><use href="#d" x="142.2" y="238.0"/><use href="#c" x="205.8" y="112.1"/><use href="#r" x="194.5" y="132.1"/><use href="#c" x="197.3" y="187.2"/><use href="#r" x="158.5" y="274.0"/><use href="#d" x="131.3" y="272.0"/><use href="#r" x="149.0" y="220.1"/><use href="#r" x="191.0" y="135.3"/><use href="#r" x="188.0" y="170.7"/><use href="#r" x="178.6" y="192.8"/><use href="#k" x="124.9" y="261.2"/><use href="#c" x="194.3" y="259.0"/><use href="#c" x="204.2" y="166.5"/><use href="#d" x="173.3" y="180.0"/><use href="#d" x="155.2" y="250.1"/><use href="#r" x="212.2" y="112.6"/><use href="#r" x="212.6" y="171.5"/><use href="#c" x="220.2" y="136.4"/><use href="#r" x="219.2" y="157.0"/><use href="#r" x="213.6" y="117.4"/><use href="#d" x="138.7" y="245.1"/><use href="#r" x="193.1" y="160.0"/><use href="#r" x="216.7" y="120.0"/><use href="#d" x="170.6" y="239.9"/><use href="#c" x="178.2" y="177.5"/><use href="#r" x="190.3" y="157.0"/><use href="#c" x="151.3" y="333.6"/><use href="#r" x="195.4" y="181.0"/><use href="#d" x="144.0" y="271.1"/><use href="#r" x="205.4" y="182.8"/><use href="#r" x="261.8" y="145.0"/><use href="#r" x="192.8" y="179.8"/><use href="#c" x="189.1" y="228.6"/><use href="#r" x="224.2" y="82.9"/><use href="#k" x="175.2" y="237.3"/><use href="#r" x="182.4" y="152.4"/><use href="#k" x="154.2" y="161.2"/><use href="#c" x="164.2" y="329.4"/><use href="#r" x="233.8" y="156.0"/><use href="#r" x="214.9" y="111.8"/><use href="#r" x="228.3" y="168.2"/><use href="#c" x="163.5" y="212.7"/><use href="#r" x="196.9" y="210.7"/><use href="#r" x="219.7" y="159.0"/><use href="#d" x="159.1" y="199.4"/><use href="#k" x="148.2" y="185.7"/><use href="#c" x="208.8" y="216.3"/><use href="#r" x="210.3" y="185.7"/><use href="#d" x="132.1" y="296.0"/><use href="#r" x="215.0" y="234.3"/><use href="#c" x="150.6" y="200.8"/><use href="#c" x="183.0" y="157.4"/><use href="#r" x="250.9" y="95.0"/><use href="#r" x="226.2" y="215.5"/><use href="#c" x="177.4" y="194.9"/><use href="#r" x="205.9" y="177.7"/><use href="#c" x="173.9" y="207.8"/><use href="#r" x="232.5" y="149.1"/><use href="#c" x="185.1" y="143.5"/><use href="#r" x="203.8" y="158.2"/><use href="#r" x="164.8" y="239.7"/><use href="#r" x="205.6" y="101.2"/><use href="#r" x="225.7" y="185.3"/><use href="#r" x="199.7" y="249.7"/><use href="#r" x="224.0" y="179.2"/><use href="#r" x="227.2" y="148.1"/><use href="#c" x="165.1" y="226.9"/><use href="#c" x="170.8" y="277.9"/><use href="#k" x="119.3" y="282.7"/><use href="#d" x="166.5" y="170.9"/><use href="#c" x="212.7" y="178.5"/><use href="#k" x="166.7" y="232.6"/><use href="#c" x="180.5" y="187.8"/><use href="#d" x="174.9" y="219.0"/><use href="#d" x="185.5" y="163.1"/><use href="#r" x="224.5" y="150.1"/><use href="#d" x="223.3" y="116.9"/><use href="#d" x="125.5" y="273.4"/><use href="#c" x="226.0" y="189.7"/><use href="#k" x="138.5" y="276.4"/><use href="#d" x="171.5" y="163.2"/><use href="#c" x="190.2" y="168.4"/><use href="#c" x="213.9" y="132.6"/><use href="#d" x="179.5" y="192.1"/><use href="#r" x="223.6" y="163.5"/><use href="#c" x="204.9" y="108.8"/><use href="#r" x="197.6" y="154.4"/><use href="#k" x="157.5" y="222.4"/><use href="#k" x="164.0" y="251.9"/><use href="#k" x="191.7" y="183.8"/><use href="#r" x="195.3" y="137.7"/><use href="#r" x="247.7" y="191.9"/><use href="#r" x="198.6" y="133.6"/><use href="#r" x="153.6" y="255.0"/><use href="#r" x="189.9" y="189.3"/><use href="#c" x="202.6" y="236.7"/><use href="#k" x="181.3" y="267.0"/><use href="#r" x="216.5" y="130.2"/><use href="#c" x="187.3" y="139.2"/><use href="#k" x="171.5" y="225.0"/><use href="#c" x="198.5" y="202.5"/><use href="#r" x="222.1" y="119.6"/><use href="#d" x="143.5" y="251.7"/><use href="#r" x="220.2" y="184.7"/><use href="#d" x="170.0" y="176.8"/><use href="#c" x="180.8" y="157.5"/><use href="#r" x="216.6" y="137.2"/><use href="#r" x="230.2" y="94.2"/><use href="#c" x="191.5" y="121.4"/><use href="#c" x="198.7" y="229.5"/><use href="#r" x="213.5" y="153.0"/><use href="#r" x="233.0" y="129.8"/><use href="#c" x="219.8" y="132.5"/><use href="#c" x="199.4" y="136.7"/><use href="#c" x="208.6" y="141.6"/><use href="#c" x="192.5" y="109.5"/><use href="#k" x="178.7" y="198.2"/><use href="#k" x="179.7" y="204.1"/><use href="#k" x="161.5" y="236.4"/><use href="#d" x="171.3" y="192.2"/><use href="#d" x="181.0" y="181.2"/><use href="#r" x="207.5" y="186.9"/><use href="#c" x="156.1" y="219.5"/><use href="#k" x="124.7" y="291.0"/><use href="#c" x="207.1" y="171.2"/><use href="#k" x="164.5" y="208.0"/><use href="#k" x="221.6" y="116.3"/><use href="#r" x="165.6" y="212.0"/><use href="#d" x="168.9" y="224.0"/><use href="#c" x="228.4" y="181.9"/><use href="#c" x="179.7" y="217.9"/><use href="#c" x="206.7" y="160.7"/><use href="#d" x="140.5" y="280.4"/><use href="#r" x="198.8" y="159.6"/><use href="#c" x="160.3" y="197.3"/><use href="#r" x="140.1" y="234.8"/><use href="#c" x="188.2" y="160.5"/><use href="#k" x="155.0" y="199.5"/><use href="#c" x="205.2" y="176.0"/><use href="#c" x="194.3" y="174.3"/><use href="#d" x="152.4" y="206.7"/><use href="#k" x="189.2" y="230.3"/><use href="#c" x="226.0" y="130.3"/><use href="#k" x="151.0" y="274.7"/><use href="#c" x="193.3" y="119.7"/><use href="#r" x="217.5" y="123.6"/><use href="#r" x="178.5" y="176.6"/><use href="#c" x="191.4" y="207.8"/><use href="#d" x="155.1" y="202.6"/><use href="#r" x="167.4" y="204.2"/><use href="#r" x="177.5" y="173.1"/><use href="#c" x="163.8" y="244.5"/><use href="#r" x="209.3" y="153.5"/><use href="#k" x="180.3" y="185.9"/><use href="#c" x="193.7" y="154.4"/><use href="#c" x="214.2" y="135.8"/><use href="#r" x="231.8" y="172.7"/><use href="#c" x="223.6" y="186.2"/><use href="#c" x="229.8" y="155.5"/><use href="#r" x="207.3" y="168.4"/><use href="#d" x="116.7" y="255.9"/><use href="#r" x="170.3" y="209.1"/><use href="#k" x="157.8" y="211.4"/><use href="#c" x="239.2" y="82.9"/><use href="#c" x="217.1" y="154.5"/><use href="#r" x="209.3" y="118.5"/><use href="#r" x="194.2" y="123.4"/><use href="#k" x="174.7" y="206.5"/><use href="#c" x="159.9" y="260.6"/><use href="#c" x="188.6" y="166.5"/><use href="#r" x="153.5" y="216.4"/><use href="#r" x="182.1" y="156.5"/><use href="#r" x="196.4" y="111.7"/><use href="#r" x="220.1" y="195.9"/><use href="#c" x="195.2" y="222.5"/><use href="#k" x="189.9" y="194.0"/><use href="#r" x="196.7" y="168.4"/><use href="#c" x="203.3" y="134.4"/><use href="#r" x="233.5" y="131.3"/><use href="#c" x="231.5" y="166.7"/><use href="#r" x="188.5" y="145.3"/><use href="#d" x="146.7" y="218.1"/><use href="#c" x="226.6" y="123.1"/><use href="#c" x="157.6" y="194.8"/><use href="#k" x="159.4" y="297.6"/><use href="#d" x="178.0" y="281.9"/><use href="#k" x="136.5" y="277.6"/><use href="#c" x="186.5" y="158.8"/><use href="#r" x="216.7" y="173.3"/><use href="#r" x="219.9" y="95.2"/><use href="#c" x="180.9" y="176.6"/><use href="#k" x="151.0" y="316.2"/><use href="#r" x="202.9" y="200.3"/><use href="#d" x="185.4" y="173.3"/><use href="#c" x="180.3" y="212.7"/><use href="#r" x="180.2" y="186.5"/><use href="#r" x="140.9" y="276.8"/><use href="#c" x="200.0" y="105.3"/><use href="#d" x="155.2" y="235.2"/><use href="#r" x="189.1" y="223.4"/><use href="#d" x="172.5" y="217.0"/><use href="#k" x="148.1" y="245.6"/><use href="#k" x="164.7" y="227.3"/><use href="#r" x="138.8" y="251.5"/><use href="#r" x="143.0" y="238.6"/><use href="#d" x="155.0" y="337.8"/><use href="#r" x="221.5" y="122.5"/><use href="#d" x="156.2" y="229.8"/><use href="#c" x="232.5" y="135.8"/><use href="#c" x="205.7" y="158.7"/><use href="#r" x="224.3" y="153.6"/><use href="#k" x="188.4" y="181.7"/><use href="#d" x="167.1" y="199.8"/><use href="#k" x="169.0" y="250.2"/><use href="#r" x="169.2" y="189.2"/><use href="#c" x="202.9" y="159.2"/><use href="#k" x="137.5" y="266.7"/><use href="#c" x="182.0" y="174.3"/><use href="#d" x="172.2" y="209.0"/><use href="#r" x="164.5" y="207.5"/><use href="#r" x="183.8" y="212.7"/><use href="#c" x="147.9" y="269.3"/><use href="#d" x="130.6" y="279.8"/><use href="#r" x="196.9" y="173.6"/><use href="#c" x="214.4" y="173.6"/><use href="#r" x="190.7" y="164.8"/><use href="#r" x="223.6" y="170.5"/><use href="#d" x="163.4" y="192.8"/><use href="#c" x="199.8" y="143.2"/><use href="#c" x="204.9" y="156.0"/><use href="#c" x="173.0" y="185.0"/><use href="#r" x="177.2" y="166.0"/><use href="#r" x="220.9" y="177.3"/><use href="#k" x="147.0" y="204.5"/><use href="#r" x="154.6" y="247.0"/><use href="#d" x="181.0" y="193.5"/><use href="#r" x="204.4" y="150.8"/><use href="#c" x="234.2" y="158.8"/><use href="#c" x="221.1" y="172.3"/><use href="#k" x="205.1" y="141.5"/><use href="#d" x="144.6" y="216.0"/><use href="#k" x="161.2" y="202.0"/><use href="#k" x="180.7" y="241.3"/><use href="#r" x="234.8" y="191.3"/><use href="#c" x="234.4" y="161.5"/><use href="#r" x="226.1" y="146.3"/><use href="#r" x="190.0" y="178.0"/><use href="#d" x="168.7" y="175.4"/><use href="#c" x="164.6" y="188.0"/><use href="#r" x="198.2" y="135.5"/><use href="#k" x="172.4" y="276.0"/><use href="#d" x="174.1" y="236.5"/><use href="#r" x="182.5" y="179.3"/><use href="#r" x="231.8" y="196.5"/><use href="#c" x="157.2" y="211.6"/><use href="#c" x="159.3" y="215.1"/><use href="#k" x="173.0" y="255.4"/><use href="#r" x="235.9" y="150.1"/><use href="#c" x="232.1" y="135.6"/><use href="#c" x="187.3" y="137.1"/><use href="#k" x="168.0" y="198.6"/><use href="#k" x="164.5" y="160.5"/><use href="#d" x="108.6" y="294.5"/><use href="#c" x="233.5" y="156.4"/><use href="#k" x="130.7" y="319.5"/><use href="#k" x="130.8" y="282.4"/><use href="#d" x="168.6" y="210.0"/><use href="#r" x="215.3" y="157.2"/><use href="#r" x="184.0" y="208.9"/><use href="#r" x="186.9" y="148.9"/><use href="#c" x="226.1" y="166.8"/><use href="#r" x="218.2" y="148.7"/><use href="#k" x="130.4" y="339.9"/><use href="#r" x="188.2" y="236.2"/><use href="#k" x="147.4" y="247.8"/><use href="#c" x="158.0" y="196.3"/><use href="#d" x="166.9" y="157.9"/><use href="#c" x="154.5" y="268.4"/><use href="#r" x="155.1" y="200.3"/><use href="#c" x="182.1" y="151.7"/><use href="#c" x="184.3" y="171.9"/><use href="#c" x="223.4" y="196.2"/><use href="#d" x="156.3" y="251.8"/><use href="#d" x="160.8" y="223.5"/><use href="#c" x="155.7" y="325.7"/><use href="#r" x="165.6" y="176.4"/><use href="#k" x="173.1" y="186.9"/><use href="#r" x="187.0" y="192.5"/><use href="#d" x="167.1" y="228.2"/><use href="#r" x="227.9" y="154.2"/><use href="#r" x="197.2" y="125.6"/><use href="#r" x="213.4" y="184.0"/><use href="#r" x="171.2" y="223.7"/><use href="#d" x="170.3" y="192.6"/><use href="#r" x="185.5" y="183.4"/><use href="#r" x="209.7" y="147.8"/><use href="#r" x="232.9" y="156.8"/><use href="#r" x="163.6" y="187.0"/><use href="#c" x="182.1" y="251.9"/><use href="#c" x="137.7" y="274.0"/><use href="#d" x="176.0" y="212.1"/><use href="#c" x="177.8" y="259.5"/><use href="#r" x="212.4" y="223.1"/><use href="#r" x="181.7" y="164.2"/><use href="#c" x="139.7" y="253.9"/><use href="#c" x="163.2" y="203.2"/><use href="#r" x="157.3" y="249.1"/><use href="#r" x="188.4" y="178.9"/><use href="#d" x="162.4" y="214.6"/><use href="#c" x="212.4" y="171.2"/><use href="#d" x="143.8" y="260.3"/><use href="#d" x="176.4" y="287.3"/><use href="#r" x="233.9" y="177.2"/><use href="#r" x="211.3" y="173.1"/><use href="#c" x="172.7" y="181.3"/><use href="#r" x="162.9" y="185.6"/><use href="#k" x="174.3" y="155.1"/><use href="#r" x="199.1" y="175.2"/><use href="#c" x="186.9" y="151.4"/><use href="#c" x="148.0" y="258.5"/><use href="#r" x="159.7" y="201.4"/><use href="#d" x="174.0" y="278.6"/><use href="#c" x="212.3" y="214.5"/><use href="#d" x="159.2" y="188.5"/><use href="#k" x="155.9" y="180.7"/><use href="#c" x="244.0" y="131.6"/><use href="#k" x="167.2" y="222.0"/><use href="#c" x="221.0" y="139.7"/><use href="#c" x="228.5" y="149.8"/><use href="#r" x="196.6" y="185.8"/><use href="#c" x="176.3" y="177.9"/><use href="#c" x="236.8" y="142.5"/><use href="#c" x="217.2" y="138.5"/><use href="#r" x="198.9" y="215.7"/><use href="#k" x="183.5" y="149.6"/><use href="#c" x="159.6" y="219.5"/><use href="#k" x="171.3" y="104.8"/><use href="#k" x="176.8" y="118.2"/><use href="#k" x="169.6" y="128.9"/><use href="#k" x="153.4" y="148.5"/><use href="#k" x="163.7" y="145.6"/><use href="#k" x="149.8" y="160.4"/><use href="#k" x="168.9" y="153.2"/><use href="#k" x="145.0" y="166.4"/><use href="#r" x="232.7" y="36.6"/><use href="#c" x="246.5" y="42.4"/><use href="#r" x="223.0" y="63.0"/><use href="#c" x="208.7" y="77.4"/><use href="#r" x="228.0" y="78.5"/><use href="#c" x="241.0" y="78.5"/><use href="#c" x="243.5" y="76.5"/><use href="#r" x="253.0" y="74.5"/><use href="#r" x="276.2" y="69.8"/><use href="#r" x="268.5" y="81.5"/><use href="#r" x="247.7" y="89.3"/><use href="#d" x="226.0" y="91.3"/><use href="#r" x="200.4" y="85.7"/><use href="#c" x="203.0" y="90.6"/><use href="#c" x="206.4" y="85.2"/><use href="#r" x="198.0" y="100.3"/><use href="#c" x="212.8" y="100.5"/><use href="#c" x="240.5" y="99.3"/><use href="#r" x="259.5" y="98.0"/><use href="#r" x="269.0" y="102.6"/><use href="#r" x="254.5" y="114.5"/><use href="#r" x="264.5" y="118.0"/><use href="#r" x="216.0" y="88.0"/><use href="#c" x="221.0" y="96.0"/><use href="#r" x="231.0" y="95.0"/><use href="#r" x="260.6" y="125.8"/><use href="#r" x="259.4" y="134.2"/><use href="#r" x="251.0" y="135.3"/><use href="#r" x="253.4" y="144.9"/><use href="#r" x="254.6" y="154.4"/><use href="#r" x="248.6" y="161.6"/><use href="#r" x="250.1" y="169.5"/><use href="#r" x="245.3" y="191.0"/><use href="#r" x="243.0" y="182.7"/><use href="#r" x="240.6" y="205.3"/><use href="#r" x="233.4" y="214.9"/><use href="#r" x="231.0" y="220.9"/><use href="#r" x="223.9" y="224.4"/><use href="#r" x="214.3" y="231.6"/><use href="#r" x="207.2" y="236.4"/><use href="#k" x="220.3" y="203.0"/><use href="#d" x="120.5" y="230.0"/><use href="#k" x="99.5" y="289.1"/><use href="#k" x="106.7" y="308.2"/><use href="#k" x="153.2" y="341.6"/><use href="#c" x="142.5" y="341.6"/><use href="#c" x="146.1" y="338.0"/><use href="#k" x="125.8" y="321.3"/><use href="#k" x="128.2" y="327.3"/><use href="#k" x="111.5" y="293.9"/><use href="#k" x="113.9" y="279.5"/><use href="#k" x="107.9" y="283.1"/><rect x="20.80" y="0" width="304.40" height="1.1" fill="#bbb"/><rect x="21.30" y="2.50" width="303.40" height="444.90" fill="none" stroke="#000" stroke-width="1.4"/><path d="M27.37 447.40v-4.5M27.37 2.50v4.5M21.30 438.50h3M324.70 438.50h-3M33.44 447.40v-4.5M33.44 2.50v4.5M21.30 429.60h3M324.70 429.60h-3M39.50 447.40v-4.5M39.50 2.50v4.5M21.30 420.71h3M324.70 420.71h-3M45.57 447.40v-4.5M45.57 2.50v4.5M21.30 411.81h3M324.70 411.81h-3M51.64 447.40v-4.5M51.64 2.50v4.5M21.30 402.91h3M324.70 402.91h-3M57.71 447.40v-4.5M57.71 2.50v4.5M21.30 394.01h3M324.70 394.01h-3M63.78 447.40v-4.5M63.78 2.50v4.5M21.30 385.11h3M324.70 385.11h-3M69.84 447.40v-4.5M69.84 2.50v4.5M21.30 376.22h3M324.70 376.22h-3M75.91 447.40v-4.5M75.91 2.50v4.5M21.30 367.32h3M324.70 367.32h-3M81.98 447.40v-9M81.98 2.50v9M21.30 358.42h6M324.70 358.42h-6M88.05 447.40v-4.5M88.05 2.50v4.5M21.30 349.52h3M324.70 349.52h-3M94.12 447.40v-4.5M94.12 2.50v4.5M21.30 340.62h3M324.70 340.62h-3M100.18 447.40v-4.5M100.18 2.50v4.5M21.30 331.73h3M324.70 331.73h-3M106.25 447.40v-4.5M106.25 2.50v4.5M21.30 322.83h3M324.70 322.83h-3M112.32 447.40v-4.5M112.32 2.50v4.5M21.30 313.93h3M324.70 313.93h-3M118.39 447.40v-4.5M118.39 2.50v4.5M21.30 305.03h3M324.70 305.03h-3M124.46 447.40v-4.5M124.46 2.50v4.5M21.30 296.13h3M324.70 296.13h-3M130.52 447.40v-4.5M130.52 2.50v4.5M21.30 287.24h3M324.70 287.24h-3M136.59 447.40v-4.5M136.59 2.50v4.5M21.30 278.34h3M324.70 278.34h-3M142.66 447.40v-9M142.66 2.50v9M21.30 269.44h6M324.70 269.44h-6M148.73 447.40v-4.5M148.73 2.50v4.5M21.30 260.54h3M324.70 260.54h-3M154.80 447.40v-4.5M154.80 2.50v4.5M21.30 251.64h3M324.70 251.64h-3M160.86 447.40v-4.5M160.86 2.50v4.5M21.30 242.75h3M324.70 242.75h-3M166.93 447.40v-4.5M166.93 2.50v4.5M21.30 233.85h3M324.70 233.85h-3M173.00 447.40v-4.5M173.00 2.50v4.5M21.30 224.95h3M324.70 224.95h-3M179.07 447.40v-4.5M179.07 2.50v4.5M21.30 216.05h3M324.70 216.05h-3M185.14 447.40v-4.5M185.14 2.50v4.5M21.30 207.15h3M324.70 207.15h-3M191.20 447.40v-4.5M191.20 2.50v4.5M21.30 198.26h3M324.70 198.26h-3M197.27 447.40v-4.5M197.27 2.50v4.5M21.30 189.36h3M324.70 189.36h-3M203.34 447.40v-9M203.34 2.50v9M21.30 180.46h6M324.70 180.46h-6M209.41 447.40v-4.5M209.41 2.50v4.5M21.30 171.56h3M324.70 171.56h-3M215.48 447.40v-4.5M215.48 2.50v4.5M21.30 162.66h3M324.70 162.66h-3M221.54 447.40v-4.5M221.54 2.50v4.5M21.30 153.77h3M324.70 153.77h-3M227.61 447.40v-4.5M227.61 2.50v4.5M21.30 144.87h3M324.70 144.87h-3M233.68 447.40v-4.5M233.68 2.50v4.5M21.30 135.97h3M324.70 135.97h-3M239.75 447.40v-4.5M239.75 2.50v4.5M21.30 127.07h3M324.70 127.07h-3M245.82 447.40v-4.5M245.82 2.50v4.5M21.30 118.17h3M324.70 118.17h-3M251.88 447.40v-4.5M251.88 2.50v4.5M21.30 109.28h3M324.70 109.28h-3M257.95 447.40v-4.5M257.95 2.50v4.5M21.30 100.38h3M324.70 100.38h-3M264.02 447.40v-9M264.02 2.50v9M21.30 91.48h6M324.70 91.48h-6M270.09 447.40v-4.5M270.09 2.50v4.5M21.30 82.58h3M324.70 82.58h-3M276.16 447.40v-4.5M276.16 2.50v4.5M21.30 73.68h3M324.70 73.68h-3M282.22 447.40v-4.5M282.22 2.50v4.5M21.30 64.79h3M324.70 64.79h-3M288.29 447.40v-4.5M288.29 2.50v4.5M21.30 55.89h3M324.70 55.89h-3M294.36 447.40v-4.5M294.36 2.50v4.5M21.30 46.99h3M324.70 46.99h-3M300.43 447.40v-4.5M300.43 2.50v4.5M21.30 38.09h3M324.70 38.09h-3M306.50 447.40v-4.5M306.50 2.50v4.5M21.30 29.19h3M324.70 29.19h-3M312.56 447.40v-4.5M312.56 2.50v4.5M21.30 20.30h3M324.70 20.30h-3M318.63 447.40v-4.5M318.63 2.50v4.5M21.30 11.40h3M324.70 11.40h-3" stroke="#000" stroke-width="1.3" fill="none"/><g font-family="Liberation Sans" font-weight="bold" font-size="12" fill="#000"><text x="16.6" y="447.80" text-anchor="end" transform="translate(16.6 0) scale(1.17 1) translate(-16.6 0)">0</text><text x="21.30" y="465.8" text-anchor="middle" transform="translate(21.30 0) scale(1.17 1) translate(-21.30 0)">0</text><text x="16.6" y="362.82" text-anchor="end" transform="translate(16.6 0) scale(1.17 1) translate(-16.6 0)">10</text><text x="81.98" y="465.8" text-anchor="middle" transform="translate(81.98 0) scale(1.17 1) translate(-81.98 0)">10</text><text x="16.6" y="273.84" text-anchor="end" transform="translate(16.6 0) scale(1.17 1) translate(-16.6 0)">20</text><text x="142.66" y="465.8" text-anchor="middle" transform="translate(142.66 0) scale(1.17 1) translate(-142.66 0)">20</text><text x="16.6" y="184.86" text-anchor="end" transform="translate(16.6 0) scale(1.17 1) translate(-16.6 0)">30</text><text x="203.34" y="465.8" text-anchor="middle" transform="translate(203.34 0) scale(1.17 1) translate(-203.34 0)">30</text><text x="16.6" y="95.88" text-anchor="end" transform="translate(16.6 0) scale(1.17 1) translate(-16.6 0)">40</text><text x="264.02" y="465.8" text-anchor="middle" transform="translate(264.02 0) scale(1.17 1) translate(-264.02 0)">40</text><text x="16.6" y="10.00" text-anchor="end" transform="translate(16.6 0) scale(1.17 1) translate(-16.6 0)">50</text><text x="324.70" y="465.8" text-anchor="middle" transform="translate(324.70 0) scale(1.17 1) translate(-324.70 0)">50</text></g><g font-family="Liberation Sans" fill="#000"><text x="37.40" y="191.60" font-size="22.1" transform="translate(37.40 0) scale(0.892 1) translate(-37.40 0)">V</text><text x="51.20" y="194.80" font-size="15.8" transform="translate(51.20 0) scale(1.05 1) translate(-51.20 0)">&#981;</text><text x="28.12" y="213.65" font-size="18.9" transform="translate(28.12 0) scale(1.0 1) translate(-28.12 0)">km/s</text><text x="98.50" y="435.40" font-size="22.6" transform="translate(98.50 0) scale(0.905 1) translate(-98.50 0)">V</text><text x="112.20" y="437.50" font-size="13.7" transform="translate(112.20 0) scale(1.04 1) translate(-112.20 0)">scale</text><text x="168.40" y="437.25" font-size="22.5" transform="translate(168.40 0) scale(0.74 1) translate(-168.40 0)">&#946;</text><text x="177.80" y="438.30" font-size="13" transform="translate(177.80 0) scale(1.12 1) translate(-177.80 0)">N</text><text x="187.00" y="437.70" font-size="21" transform="translate(187.00 0) scale(0.86 1) translate(-187.00 0)">&#961;</text><text x="201.00" y="433.50" font-size="17" transform="translate(201.00 0) scale(1.0 1) translate(-201.00 0)">*</text><text x="209.70" y="436.50" font-size="20.5" transform="translate(209.70 0) scale(0.83 1) translate(-209.70 0)">V</text><text x="222.00" y="438.00" font-size="12" transform="translate(222.00 0) scale(1.1 1) translate(-222.00 0)">A</text><text x="155.00" y="462.70" font-size="18.5" transform="translate(155.00 0) scale(1.0 1) translate(-155.00 0)">km/s</text></g><path d="M151.1 428.4h10.4v1.4h-10.4zM151.1 432.4h10.4v1.4h-10.4z" fill="#000"/><rect x="198.6" y="310.7" width="120.90" height="86.30" fill="#fff" stroke="#000" stroke-width="0.9"/><polyline points="217.9,325 225.8,324.3 233,380.5 241.2,381 246.6,325 254.5,324.3 261.6,380.5 268.8,381 276,325 283.1,324.3 289.6,380.5 296.8,381" fill="none" stroke="#000" stroke-width="0.8"/><circle cx="217.9" cy="325" r="3.7" fill="none" stroke="#d02038" stroke-width="0.9"/><path d="M225.80 318.50Q226.50 323.60 231.60 324.30Q226.50 325.00 225.80 330.10Q225.10 325.00 220.00 324.30Q225.10 323.60 225.80 318.50Z" fill="none" stroke="#d02038" stroke-width="0.9"/><circle cx="233" cy="380.5" r="3.7" fill="none" stroke="#000" stroke-width="0.9"/><path d="M241.20 375.20Q241.90 380.30 247.00 381.00Q241.90 381.70 241.20 386.80Q240.50 381.70 235.40 381.00Q240.50 380.30 241.20 375.20Z" fill="none" stroke="#000" stroke-width="0.9"/><circle cx="246.6" cy="325" r="3.7" fill="none" stroke="#d02038" stroke-width="0.9"/><path d="M254.50 318.50Q255.20 323.60 260.30 324.30Q255.20 325.00 254.50 330.10Q253.80 325.00 248.70 324.30Q253.80 323.60 254.50 318.50Z" fill="none" stroke="#d02038" stroke-width="0.9"/><circle cx="261.6" cy="380.5" r="3.7" fill="none" stroke="#000" stroke-width="0.9"/><path d="M268.80 375.20Q269.50 380.30 274.60 381.00Q269.50 381.70 268.80 386.80Q268.10 381.70 263.00 381.00Q268.10 380.30 268.80 375.20Z" fill="none" stroke="#000" stroke-width="0.9"/><circle cx="276" cy="325" r="3.7" fill="none" stroke="#d02038" stroke-width="0.9"/><path d="M283.10 318.50Q283.80 323.60 288.90 324.30Q283.80 325.00 283.10 330.10Q282.40 325.00 277.30 324.30Q282.40 323.60 283.10 318.50Z" fill="none" stroke="#d02038" stroke-width="0.9"/><circle cx="289.6" cy="380.5" r="3.7" fill="none" stroke="#000" stroke-width="0.9"/><path d="M296.80 375.20Q297.50 380.30 302.60 381.00Q297.50 381.70 296.80 386.80Q296.10 381.70 291.00 381.00Q296.10 380.30 296.80 375.20Z" fill="none" stroke="#000" stroke-width="0.9"/><path d="M198.6 394.84h1.3M319.5 394.84h-1.3M198.6 392.69h1.3M319.5 392.69h-1.3M198.6 390.53h1.3M319.5 390.53h-1.3M198.6 388.37h1.3M319.5 388.37h-1.3M198.6 386.21h1.3M319.5 386.21h-1.3M198.6 384.06h1.3M319.5 384.06h-1.3M198.6 381.90h1.3M319.5 381.90h-1.3M198.6 379.74h1.3M319.5 379.74h-1.3M198.6 377.58h1.3M319.5 377.58h-1.3M198.6 375.43h1.3M319.5 375.43h-1.3M198.6 373.27h1.3M319.5 373.27h-1.3M198.6 371.11h1.3M319.5 371.11h-1.3M198.6 368.95h1.3M319.5 368.95h-1.3M198.6 366.80h1.3M319.5 366.80h-1.3M198.6 364.64h1.3M319.5 364.64h-1.3M198.6 362.48h1.3M319.5 362.48h-1.3M198.6 360.32h1.3M319.5 360.32h-1.3M198.6 358.17h1.3M319.5 358.17h-1.3M198.6 356.01h1.3M319.5 356.01h-1.3M198.6 353.85h3M319.5 353.85h-3M198.6 351.69h1.3M319.5 351.69h-1.3M198.6 349.53h1.3M319.5 349.53h-1.3M198.6 347.38h1.3M319.5 347.38h-1.3M198.6 345.22h1.3M319.5 345.22h-1.3M198.6 343.06h1.3M319.5 343.06h-1.3M198.6 340.90h1.3M319.5 340.90h-1.3M198.6 338.75h1.3M319.5 338.75h-1.3M198.6 336.59h1.3M319.5 336.59h-1.3M198.6 334.43h1.3M319.5 334.43h-1.3M198.6 332.27h1.3M319.5 332.27h-1.3M198.6 330.12h1.3M319.5 330.12h-1.3M198.6 327.96h1.3M319.5 327.96h-1.3M198.6 325.80h1.3M319.5 325.80h-1.3M198.6 323.64h1.3M319.5 323.64h-1.3M198.6 321.49h1.3M319.5 321.49h-1.3M198.6 319.33h1.3M319.5 319.33h-1.3M198.6 317.17h1.3M319.5 317.17h-1.3M198.6 315.01h1.3M319.5 315.01h-1.3M198.6 312.86h1.3M319.5 312.86h-1.3M201.02 397.0v-1.1M201.02 310.7v1.1M203.44 397.0v-1.1M203.44 310.7v1.1M205.85 397.0v-1.1M205.85 310.7v1.1M208.27 397.0v-1.1M208.27 310.7v1.1M210.69 397.0v-1.1M210.69 310.7v1.1M213.11 397.0v-1.1M213.11 310.7v1.1M215.53 397.0v-1.1M215.53 310.7v1.1M217.94 397.0v-1.1M217.94 310.7v1.1M220.36 397.0v-1.1M220.36 310.7v1.1M222.78 397.0v-2.2M222.78 310.7v2.2M225.20 397.0v-1.1M225.20 310.7v1.1M227.62 397.0v-1.1M227.62 310.7v1.1M230.03 397.0v-1.1M230.03 310.7v1.1M232.45 397.0v-1.1M232.45 310.7v1.1M234.87 397.0v-1.1M234.87 310.7v1.1M237.29 397.0v-1.1M237.29 310.7v1.1M239.71 397.0v-1.1M239.71 310.7v1.1M242.12 397.0v-1.1M242.12 310.7v1.1M244.54 397.0v-1.1M244.54 310.7v1.1M246.96 397.0v-2.2M246.96 310.7v2.2M249.38 397.0v-1.1M249.38 310.7v1.1M251.80 397.0v-1.1M251.80 310.7v1.1M254.21 397.0v-1.1M254.21 310.7v1.1M256.63 397.0v-1.1M256.63 310.7v1.1M259.05 397.0v-1.1M259.05 310.7v1.1M261.47 397.0v-1.1M261.47 310.7v1.1M263.89 397.0v-1.1M263.89 310.7v1.1M266.30 397.0v-1.1M266.30 310.7v1.1M268.72 397.0v-1.1M268.72 310.7v1.1M271.14 397.0v-2.2M271.14 310.7v2.2M273.56 397.0v-1.1M273.56 310.7v1.1M275.98 397.0v-1.1M275.98 310.7v1.1M278.39 397.0v-1.1M278.39 310.7v1.1M280.81 397.0v-1.1M280.81 310.7v1.1M283.23 397.0v-1.1M283.23 310.7v1.1M285.65 397.0v-1.1M285.65 310.7v1.1M288.07 397.0v-1.1M288.07 310.7v1.1M290.48 397.0v-1.1M290.48 310.7v1.1M292.90 397.0v-1.1M292.90 310.7v1.1M295.32 397.0v-2.2M295.32 310.7v2.2M297.74 397.0v-1.1M297.74 310.7v1.1M300.16 397.0v-1.1M300.16 310.7v1.1M302.57 397.0v-1.1M302.57 310.7v1.1M304.99 397.0v-1.1M304.99 310.7v1.1M307.41 397.0v-1.1M307.41 310.7v1.1M309.83 397.0v-1.1M309.83 310.7v1.1M312.25 397.0v-1.1M312.25 310.7v1.1M314.66 397.0v-1.1M314.66 310.7v1.1M317.08 397.0v-1.1M317.08 310.7v1.1" stroke="#000" stroke-width="0.7" fill="none"/><g font-family="Liberation Sans" font-size="8" fill="#000"><text x="196.7" y="314.0" text-anchor="end">0.5</text><text x="196.7" y="357.8" text-anchor="end">0.3</text><text x="196.7" y="399.6" text-anchor="end">0.1</text><text x="222.2" y="405.6" text-anchor="middle">2000</text><text x="246.6" y="405.6" text-anchor="middle">3000</text><text x="272.9" y="405.6" text-anchor="middle">4000</text><text x="295.1" y="405.6" text-anchor="middle">5000</text><text x="242.6" y="396.3" font-size="11">t</text><text x="248.3" y="396.3" font-size="8.3">(msec)</text><text x="202.0" y="360.5" font-size="19.5" transform="translate(202 0) scale(0.8 1) translate(-202 0)">&#948;</text><text x="209.7" y="361.2" font-size="10.5">u</text></g></svg></body></html>
